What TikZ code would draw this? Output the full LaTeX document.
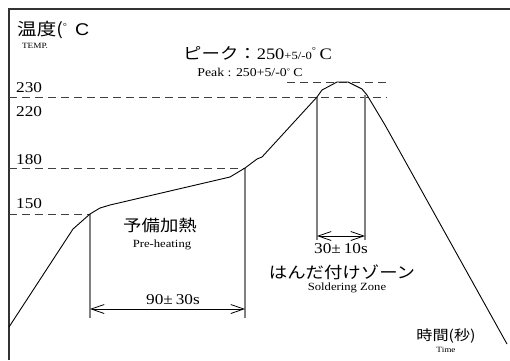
\documentclass[tikz,border=0pt]{standalone}
\usepackage{fontspec}
\setmainfont{Liberation Serif}
\newfontfamily\jpf{Noto Sans CJK JP}
\newfontfamily\arialf{Liberation Sans}
\usetikzlibrary{arrows.meta}
\newcommand\fsz[1]{\fontsize{#1}{#1}\selectfont}
\begin{document}
\begin{tikzpicture}[x=1pt,y=-1pt,
  frame/.style={draw=black!80, line width=1.4pt},
  guide/.style={draw=black!75, line width=1pt, dash pattern=on 8pt off 5pt},
  marker/.style={draw=black!50, line width=1.8pt},
  dimline/.style={draw=black, line width=0.8pt, {Straight Barb[length=13pt,width=9pt]}-{Straight Barb[length=13pt,width=9pt]}},
  profile/.style={draw=black, line width=0.9pt, line join=round},
  lbl/.style={inner sep=0pt, xscale=1.15},
]
\useasboundingbox (0,0) rectangle (510,360);
% frame
\coordinate (axbot) at (9,360);
\coordinate (axtop) at (9,9);
\coordinate (axright) at (510,9);
\draw[frame] (axbot) -- (axtop) -- (axright);
% profile points
\coordinate (p1) at (9,327);
\coordinate (p2) at (73,229);
\coordinate (p3) at (90,214);
\coordinate (p4) at (100,208);
\coordinate (p5) at (110,205);
\coordinate (p6) at (230,177);
\coordinate (p7) at (245,168);
\coordinate (p8) at (257,159);
\coordinate (p9) at (262,157);
\coordinate (p10) at (317,97);
\coordinate (p11) at (322,90);
\coordinate (p12) at (337,82);
\coordinate (p13) at (348,82);
\coordinate (p14) at (362,89);
\coordinate (p15) at (367,95);
\coordinate (p16) at (385,125);
\coordinate (p17) at (507,344);
% guide lines
\coordinate (g230a) at (287,82);  \coordinate (g230b) at (387,82);
\coordinate (g220a) at (9,97);    \coordinate (g220b) at (387,97);
\coordinate (g180a) at (9,168);   \coordinate (g180b) at (245,168);
\coordinate (g150a) at (9,214);   \coordinate (g150b) at (90,214);
\draw[guide] (g230a) -- (g230b);
\draw[guide] (g220a) -- (g220b);
\draw[guide] (g180a) -- (g180b);
\draw[guide] (g150a) -- (g150b);
% markers
\coordinate (m1a) at (90,214);  \coordinate (m1b) at (90,318);
\coordinate (m2a) at (245,168); \coordinate (m2b) at (245,318);
\coordinate (m3a) at (317,97);  \coordinate (m3b) at (317,240);
\coordinate (m4a) at (365,95);  \coordinate (m4b) at (365,240);
\draw[marker] (m1a) -- (m1b);
\draw[marker] (m2a) -- (m2b);
\draw[marker] (m3a) -- (m3b);
\draw[marker] (m4a) -- (m4b);
% profile
\draw[profile] (p1) -- (p2) -- (p3) -- (p4) -- (p5) -- (p6) -- (p7) -- (p8) -- (p9)
  -- (p10) -- (p11) -- (p12) -- (p13) -- (p14) -- (p15) -- (p16) -- (p17);
% dimension arrows
\coordinate (d1a) at (90,309);  \coordinate (d1b) at (245,309);
\coordinate (d2a) at (317,236); \coordinate (d2b) at (365,236);
\draw[dimline] (d1a) -- (d1b);
\draw[dimline] (d2a) -- (d2b);
% labels
\node[lbl, anchor=west] (ylab) at (17,30) {{\jpf\fsz{17}温度(}\raisebox{6pt}{\fsz{9}°}\hspace{7pt}{\arialf\fsz{17}C}};
\node[lbl] (temp) at (35,46) {\fsz{8}TEMP.};
\node[lbl, anchor=west] (t230) at (16,88) {\fsz{15}230};
\node[lbl, anchor=west] (t220) at (16,112) {\fsz{15}220};
\node[lbl, anchor=west] (t180) at (16,160) {\fsz{15}180};
\node[lbl, anchor=west] (t150) at (16,204) {\fsz{15}150};
\node[lbl, anchor=base west] (peak) at (183,59) {{\jpf\fsz{16}ピーク：}{\fsz{16}250}{\fsz{11}+5/-0}\raisebox{6pt}{\fsz{9}°}\hspace{3pt}{\fsz{16}C}};
\node[lbl] (peaken) at (250,72) {\fsz{12}Peak : 250+5/-0\raisebox{3pt}{\fsz{7}°} C};
\node[lbl] (pre) at (160,225) {\jpf\fsz{16}予備加熱};
\node[lbl] (preen) at (162,245) {\fsz{11}Pre-heating};
\node[lbl] (t90) at (173,300) {\fsz{15}90±\,30s};
\node[lbl] (t30) at (341,249) {\fsz{15}30±\,10s};
\node[lbl] (sold) at (342,272) {\jpf\fsz{16}はんだ付けゾーン};
\node[lbl] (solden) at (347,288) {\fsz{11}Soldering Zone};
\node[lbl] (xlab) at (446,336) {\jpf\fsz{14}時間(秒)};
\node[lbl] (time) at (446,350) {\fsz{8}Time};
\end{tikzpicture}
\end{document}
